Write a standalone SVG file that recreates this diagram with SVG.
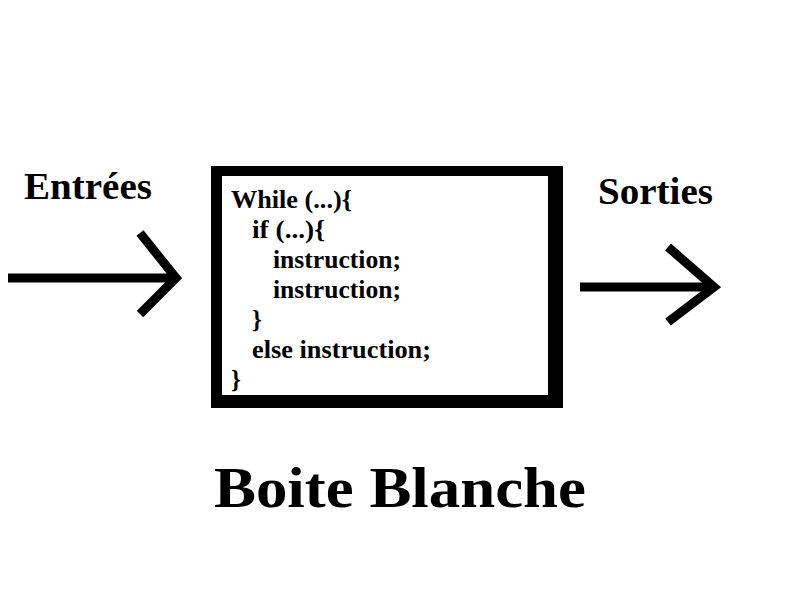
<svg xmlns="http://www.w3.org/2000/svg" width="800" height="600" viewBox="0 0 800 600">
<style>
text { font-family: "Liberation Serif", "DejaVu Serif", serif; font-weight: bold; fill: #000; }
.code { font-size: 25px; }
.lbl { font-size: 37px; }
.title { font-size: 56px; }
.arrow { stroke: #000; stroke-width: 9; fill: none; stroke-linecap: butt; stroke-linejoin: miter; }
</style>
<rect width="800" height="600" fill="#fff"/>
<g id="connectors">
  <g id="arrow-in">
    <line class="arrow" x1="8" y1="278" x2="176" y2="278"/>
    <polyline class="arrow" points="140,233 176,278 140,314"/>
  </g>
  <g id="arrow-out">
    <line class="arrow" x1="580" y1="287" x2="714" y2="287"/>
    <polyline class="arrow" points="668,247 714,287 668,322"/>
  </g>
</g>
<g id="label-entrees">
  <text class="lbl" x="24" y="199" textLength="128" lengthAdjust="spacingAndGlyphs">Entrées</text>
</g>
<g id="label-sorties">
  <text class="lbl" x="598" y="204" textLength="115" lengthAdjust="spacingAndGlyphs">Sorties</text>
</g>
<g id="box">
  <path d="M211,166 H563 V408 H211 Z M222,176 V395 H548 V176 Z" fill="#000" fill-rule="evenodd"/>
  <rect x="222" y="176" width="326" height="219" fill="#fff"/>
  <text class="code" x="231" y="208" textLength="121" lengthAdjust="spacingAndGlyphs">While (...){</text>
  <text class="code" x="252" y="238" textLength="73" lengthAdjust="spacingAndGlyphs">if (...){</text>
  <text class="code" x="273" y="268" textLength="128" lengthAdjust="spacingAndGlyphs">instruction;</text>
  <text class="code" x="273" y="298" textLength="128" lengthAdjust="spacingAndGlyphs">instruction;</text>
  <text class="code" x="252" y="328">}</text>
  <text class="code" x="252" y="358" textLength="179" lengthAdjust="spacingAndGlyphs">else instruction;</text>
  <text class="code" x="231" y="388">}</text>
</g>
<g id="title">
  <text class="title" x="214" y="507" textLength="372" lengthAdjust="spacingAndGlyphs">Boite Blanche</text>
</g>
</svg>
